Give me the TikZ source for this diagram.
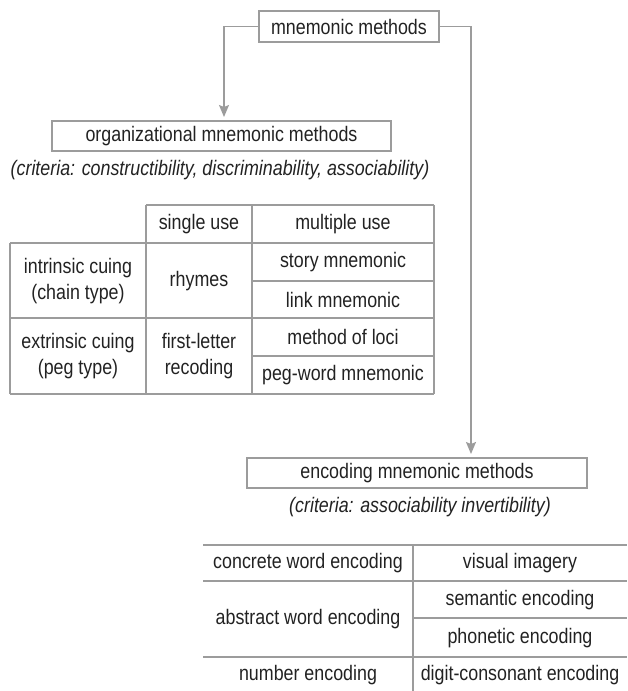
\documentclass[tikz,border=0pt]{standalone}
\usepackage{fontspec}
\setmainfont{Liberation Sans}[FakeStretch=0.85]
\usetikzlibrary{arrows.meta}
\definecolor{lg}{HTML}{9C9C9C}
\definecolor{tg}{HTML}{222222}
\begin{document}
\begin{tikzpicture}[x=1pt,y=1pt,
  txt/.style={inner sep=0pt, text=tg, align=center, font=\fontsize{21}{26}\selectfont},
  itx/.style={txt, font=\fontsize{21}{26}\selectfont\itshape},
  bx/.style={txt, draw=lg, line width=1.3pt},
  rule/.style={draw=lg, line width=1.3pt},
  conn/.style={draw=lg, line width=1.3pt, -{Stealth[length=12pt,width=10pt,inset=2pt]}}]
\useasboundingbox (0,0) rectangle (627,-691);

% boxes
\node[bx, minimum width=180, minimum height=31] (mm) at (349,-26.5) {mnemonic methods};
\node[bx, minimum width=339, minimum height=30] (org) at (221.5,-136) {organizational mnemonic methods};
\node[itx] (orgc) at (220,-170) {(criteria: constructibility, discriminability, associability)};
\node[bx, minimum width=340, minimum height=30] (enc) at (417,-473) {encoding mnemonic methods};
\node[itx] (encc) at (420,-507) {(criteria: associability invertibility)};

% connectors
\coordinate (a1) at (224,-117);
\coordinate (a2) at (471,-454);
\draw[conn] (mm.west) -| (a1);
\draw[conn] (mm.east) -| (a2);

% top table lines
\draw[rule] (146,-205) -- (434,-205);
\draw[rule] (10,-243) -- (434,-243);
\draw[rule] (252,-281) -- (434,-281);
\draw[rule] (10,-318) -- (434,-318);
\draw[rule] (252,-356) -- (434,-356);
\draw[rule] (10,-394) -- (434,-394);
\draw[rule] (10,-243) -- (10,-394);
\draw[rule] (146,-205) -- (146,-394);
\draw[rule] (252,-205) -- (252,-394);
\draw[rule] (434,-205) -- (434,-394);

% top table text
\node[txt] (su) at (199,-224) {single use};
\node[txt] (mu) at (343,-224) {multiple use};
\node[txt] (ic) at (78,-281) {intrinsic cuing\\(chain type)};
\node[txt] (rh) at (199,-281) {rhymes};
\node[txt] (sm) at (343,-262) {story mnemonic};
\node[txt] (lm) at (343,-299.5) {link mnemonic};
\node[txt] (ec) at (78,-356) {extrinsic cuing\\(peg type)};
\node[txt] (fl) at (199,-356) {first-letter\\recoding};
\node[txt] (ml) at (343,-337) {method of loci};
\node[txt] (pw) at (343,-375) {peg-word mnemonic};

% bottom table lines
\draw[rule] (203,-545) -- (627,-545);
\draw[rule] (203,-581) -- (627,-581);
\draw[rule] (413,-618) -- (627,-618);
\draw[rule] (203,-657) -- (627,-657);
\draw[rule] (413,-545) -- (413,-691);

% bottom table text
\node[txt] (cw) at (308,-563) {concrete word encoding};
\node[txt] (vi) at (520,-563) {visual imagery};
\node[txt] (aw) at (308,-619) {abstract word encoding};
\node[txt] (se) at (520,-600) {semantic encoding};
\node[txt] (pe) at (520,-638) {phonetic encoding};
\node[txt] (ne) at (308,-675) {number encoding};
\node[txt] (dc) at (520,-675) {digit-consonant encoding};
\end{tikzpicture}
\end{document}
